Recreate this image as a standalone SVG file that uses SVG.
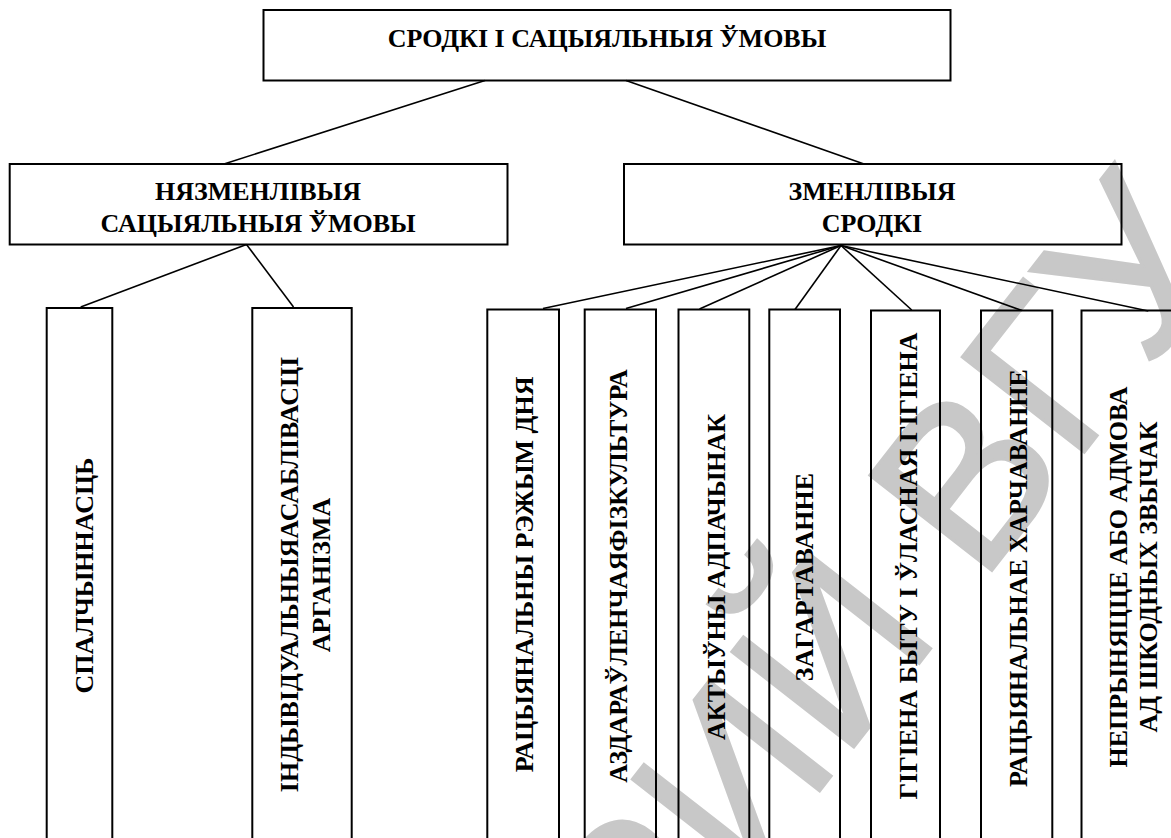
<svg xmlns="http://www.w3.org/2000/svg" width="1171" height="838" viewBox="0 0 1171 838">
<style>
.box{fill:none;stroke:#000;stroke-width:2}
.con line{stroke:#000;stroke-width:1.6}
.t{font-family:"Liberation Serif","Times New Roman",serif;font-weight:bold;font-size:26px;fill:#000;text-anchor:middle}
.wm{font-family:"Liberation Sans",Arial,sans-serif;font-size:225px;fill:#c8c8c8;stroke:#c8c8c8;stroke-width:3;text-anchor:end}
</style>
<rect width="1171" height="838" fill="#fff"/>
<text class="wm" transform="translate(1236,258) rotate(-52)">РИЙ ВГУ</text>
<g id="connectors" class="con">
<line x1="485" y1="80.5" x2="224" y2="164"/>
<line x1="626" y1="80.5" x2="864" y2="164"/>
<line x1="246.5" y1="244.5" x2="80.7" y2="307"/>
<line x1="246.5" y1="244.5" x2="293.5" y2="307"/>
<line x1="841" y1="245.5" x2="543" y2="308.5"/>
<line x1="841" y1="245.5" x2="626" y2="308.5"/>
<line x1="841" y1="245.5" x2="699.5" y2="309"/>
<line x1="841" y1="245.5" x2="795" y2="309.5"/>
<line x1="841" y1="245.5" x2="911.7" y2="310"/>
<line x1="841" y1="245.5" x2="1022" y2="310.5"/>
<line x1="841" y1="245.5" x2="1148.3" y2="311"/>
</g>
<g id="root">
<rect class="box" x="263.5" y="10" width="687" height="70.5"/>
<text class="t" x="607" y="46.7">СРОДКІ І САЦЫЯЛЬНЫЯ ЎМОВЫ</text>
</g>
<g id="unchangeable">
<rect class="box" x="9.7" y="164" width="497.8" height="80.5"/>
<text class="t" x="258" y="200">НЯЗМЕНЛІВЫЯ</text>
<text class="t" x="258" y="231.7">САЦЫЯЛЬНЫЯ ЎМОВЫ</text>
</g>
<g id="changeable">
<rect class="box" x="624" y="164" width="497.5" height="80.5"/>
<text class="t" x="872" y="200">ЗМЕНЛІВЫЯ</text>
<text class="t" x="872" y="231.7">СРОДКІ</text>
</g>
<g id="n1">
<rect class="box" x="46.7" y="308" width="65.6" height="545"/>
<text class="t" transform="translate(93,575.5) rotate(-90)">СПАЛЧЫННАСЦЬ</text>
</g>
<g id="n2">
<rect class="box" x="252.3" y="308" width="99.4" height="545"/>
<text class="t" transform="translate(298,574.4) rotate(-90)">ІНДЫВІДУАЛЬНЫЯАСАБЛІВАСЦІ</text>
<text class="t" transform="translate(330,575) rotate(-90)">АРГАНІЗМА</text>
</g>
<g id="n3">
<rect class="box" x="487.3" y="309.5" width="71.7" height="545"/>
<text class="t" transform="translate(533,574.4) rotate(-90)">РАЦЫЯНАЛЬНЫ РЭЖЫМ ДНЯ</text>
</g>
<g id="n4">
<rect class="box" x="584.7" y="309.5" width="71.3" height="545"/>
<text class="t" transform="translate(626.7,576) rotate(-90)">АЗДАРАЎЛЕНЧАЯФІЗКУЛЬТУРА</text>
</g>
<g id="n5">
<rect class="box" x="678.5" y="309.5" width="70.8" height="545"/>
<text class="t" transform="translate(725,577) rotate(-90)">АКТЫЎНЫ АДПАЧЫНАК</text>
</g>
<g id="n6">
<rect class="box" x="769.3" y="309.5" width="70.7" height="545"/>
<text class="t" transform="translate(813.3,577) rotate(-90)">ЗАГАРТАВАННЕ</text>
</g>
<g id="n7">
<rect class="box" x="871" y="310.5" width="69" height="545"/>
<text class="t" transform="translate(916.7,566) rotate(-90)">ГІГІЕНА БЫТУ І ЎЛАСНАЯ ГІГІЕНА</text>
</g>
<g id="n8">
<rect class="box" x="981" y="310.5" width="71.3" height="545"/>
<text class="t" transform="translate(1026.7,578) rotate(-90)">РАЦЫЯНАЛЬНАЕ ХАРЧАВАННЕ</text>
</g>
<g id="n9">
<rect class="box" x="1081.5" y="310.5" width="100" height="545"/>
<text class="t" transform="translate(1126.7,577) rotate(-90)">НЕПРЫНЯЦЦЕ АБО АДМОВА</text>
<text class="t" transform="translate(1156.7,577) rotate(-90)">АД ШКОДНЫХ ЗВЫЧАК</text>
</g>
</svg>
